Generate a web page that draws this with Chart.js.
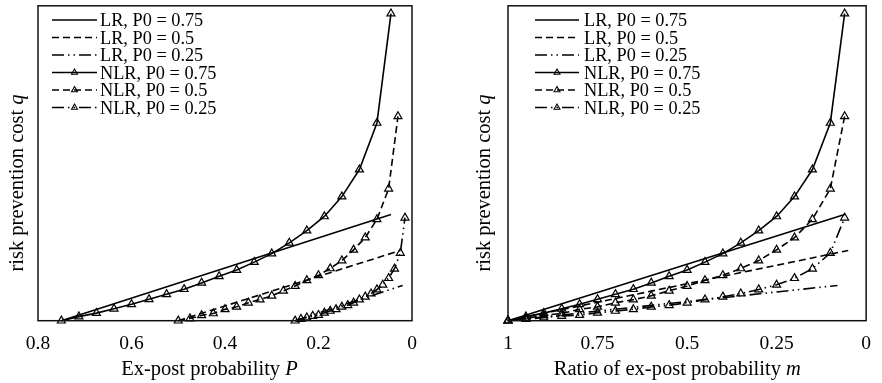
<!DOCTYPE html>
<html>
<head>
<meta charset="utf-8">
<script src="https://cdn.jsdelivr.net/npm/chart.js@4.4.0/dist/chart.umd.min.js"></script>
<style>
  html, body { margin: 0; padding: 0; background: #fff; }
  #wrap { position: relative; width: 882px; height: 383px; }
  canvas { position: absolute; top: 0; }
  #left { left: 0; }
  #right { left: 441px; }
</style>
</head>
<body>
<div id="wrap">
  <canvas id="left" width="441" height="383"></canvas>
  <canvas id="right" width="441" height="383"></canvas>
</div>
<script>
// ratio of ex-post probability m at each NLR marker
const ratios = [1, 0.95, 0.9, 0.85, 0.8, 0.75, 0.7, 0.65, 0.6, 0.55, 0.5, 0.45, 0.4, 0.35, 0.3, 0.25, 0.2, 0.15, 0.1, 0.06];
// risk prevention cost q (axis has no scale, 0..1 = bottom..top of frame)
const nlr75 = [0, 0.013, 0.024, 0.038, 0.052, 0.068, 0.084, 0.100, 0.120, 0.141, 0.161, 0.186, 0.213, 0.247, 0.286, 0.331, 0.394, 0.480, 0.628, 0.975];
const nlr50 = [0, 0.007, 0.017, 0.023, 0.036, 0.044, 0.057, 0.067, 0.079, 0.095, 0.110, 0.128, 0.144, 0.166, 0.191, 0.225, 0.264, 0.322, 0.419, 0.649];
const nlr25 = [0, 0.005, 0.010, 0.015, 0.018, 0.025, 0.031, 0.036, 0.044, 0.049, 0.057, 0.067, 0.076, 0.086, 0.099, 0.114, 0.135, 0.165, 0.215, 0.327];
const p0Values = [0.75, 0.5, 0.25];
// LR lines are straight: start at m = 1, q = 0, end here
const lrEndRatio = [0.06, 0.05, 0.08];
const lrEndCost = [0.3375, 0.223, 0.112];
const lrLabels = ['LR, P0 = 0.75', 'LR, P0 = 0.5', 'LR, P0 = 0.25'];
const nlrLabels = ['NLR, P0 = 0.75', 'NLR, P0 = 0.5', 'NLR, P0 = 0.25'];
const leftTicks = [0.8, 0.6, 0.4, 0.2, 0];
const rightTicks = [1, 0.75, 0.5, 0.25, 0];

const dashes = [[], [7, 4], [12, 4, 1.5, 4, 1.5, 4]];
const serif = '"Liberation Serif", "Times New Roman", serif';

const buildDatasets = (xOf) => {
  const nlr = [nlr75, nlr50, nlr25];
  const sets = [];
  p0Values.forEach((p0, i) => {
    sets.push({
      label: lrLabels[i],
      data: [
        { x: xOf(1, p0), y: 0 },
        { x: xOf(lrEndRatio[i], p0), y: lrEndCost[i] },
      ],
      borderColor: '#000',
      borderWidth: 1.6,
      borderDash: dashes[i],
      pointRadius: 0,
      clip: false,
    });
  });
  p0Values.forEach((p0, i) => {
    sets.push({
      label: nlrLabels[i],
      data: ratios.map((m, k) => ({ x: xOf(m, p0), y: nlr[i][k] })),
      borderColor: '#000',
      borderWidth: 1.6,
      borderDash: dashes[i],
      pointStyle: 'triangle',
      pointRadius: 4.6,
      pointBorderWidth: 1.2,
      pointBorderColor: '#000',
      pointBackgroundColor: 'rgba(0,0,0,0)',
      clip: false,
    });
  });
  return sets;
};

const framePlugin = {
  id: 'frame',
  afterDraw(chart) {
    const { ctx, chartArea: a } = chart;
    ctx.save();
    ctx.strokeStyle = '#111';
    ctx.lineWidth = 1.5;
    ctx.strokeRect(a.left, a.top, a.right - a.left, a.bottom - a.top);
    ctx.restore();
  },
};

const drawMixed = (ctx, plain, ital, cx, y) => {
  ctx.font = `20.5px ${serif}`;
  const w1 = ctx.measureText(plain).width;
  ctx.font = `italic 20.5px ${serif}`;
  const w2 = ctx.measureText(ital).width;
  const x0 = cx - (w1 + w2) / 2;
  ctx.textAlign = 'left';
  ctx.textBaseline = 'alphabetic';
  ctx.font = `20.5px ${serif}`;
  ctx.fillText(plain, x0, y);
  ctx.font = `italic 20.5px ${serif}`;
  ctx.fillText(ital, x0 + w1, y);
};

const textPlugin = {
  id: 'texts',
  afterDraw(chart, args, opts) {
    const { ctx } = chart;
    ctx.save();
    ctx.fillStyle = '#000';
    drawMixed(ctx, opts.xTitle[0], opts.xTitle[1], opts.xPos[0], opts.xPos[1]);
    ctx.translate(opts.yPos[0], opts.yPos[1]);
    ctx.rotate(-Math.PI / 2);
    drawMixed(ctx, 'risk prevention cost ', 'q', 0, 0);
    ctx.restore();

    // legend
    const lg = opts.legend;
    ctx.save();
    chart.data.datasets.forEach((ds, i) => {
      const y = lg.top + i * lg.step;
      ctx.strokeStyle = '#000';
      ctx.lineWidth = 1.6;
      ctx.setLineDash(ds.borderDash);
      ctx.beginPath();
      ctx.moveTo(lg.x0, y);
      ctx.lineTo(lg.x1, y);
      ctx.stroke();
      if (ds.pointRadius > 0) {
        const cx = (lg.x0 + lg.x1) / 2;
        const r = 3.4;
        ctx.setLineDash([]);
        ctx.lineWidth = 1.1;
        ctx.beginPath();
        ctx.moveTo(cx, y - r);
        ctx.lineTo(cx + r * 0.866, y + r / 2);
        ctx.lineTo(cx - r * 0.866, y + r / 2);
        ctx.closePath();
        ctx.stroke();
      }
      ctx.fillStyle = '#000';
      ctx.font = `18.3px ${serif}`;
      ctx.textAlign = 'left';
      ctx.textBaseline = 'alphabetic';
      ctx.fillText(ds.label, lg.tx, y + 6);
    });
    ctx.restore();
  },
};

const makeChart = (id, cfg) => new Chart(document.getElementById(id), {
  type: 'line',
  data: { datasets: buildDatasets(cfg.xOf) },
  plugins: [framePlugin, textPlugin],
  options: {
    responsive: false,
    animation: false,
    devicePixelRatio: 1,
    layout: { padding: cfg.padding },
    elements: { line: { tension: 0 } },
    plugins: {
      legend: { display: false },
      tooltip: { enabled: false },
      texts: cfg.texts,
    },
    scales: {
      x: {
        type: 'linear',
        reverse: true,
        min: 0,
        max: cfg.ticks[0],
        grid: { display: false, drawTicks: false },
        border: { display: false },
        afterBuildTicks: (scale) => {
          scale.ticks = cfg.ticks.map((v) => ({ value: v }));
        },
        afterFit: (scale) => {
          scale.height = 62.3;
        },
        ticks: {
          autoSkip: false,
          maxRotation: 0,
          padding: 11,
          color: '#000',
          font: { family: serif, size: 19.5 },
          callback: (v) => String(v),
        },
      },
      y: {
        display: false,
        min: 0,
        max: 1,
      },
    },
  },
});

makeChart('left', {
  xOf: (m, p0) => m * p0,
  ticks: leftTicks,
  padding: { left: 38, right: 29, top: 3, bottom: 0 },
  texts: {
    xTitle: ['Ex-post probability ', 'P'],
    xPos: [209.5, 375],
    yPos: [23, 183],
    legend: { top: 20, step: 17.5, x0: 52, x1: 97, tx: 100 },
  },
});

makeChart('right', {
  xOf: (m) => m,
  ticks: rightTicks,
  padding: { left: 67, right: 5.5, top: 3, bottom: 0 },
  texts: {
    xTitle: ['Ratio of ex-post probability ', 'm'],
    xPos: [236.3, 375],
    yPos: [49, 183],
    legend: { top: 20, step: 17.5, x0: 94, x1: 138, tx: 143 },
  },
});
</script>
</body>
</html>
